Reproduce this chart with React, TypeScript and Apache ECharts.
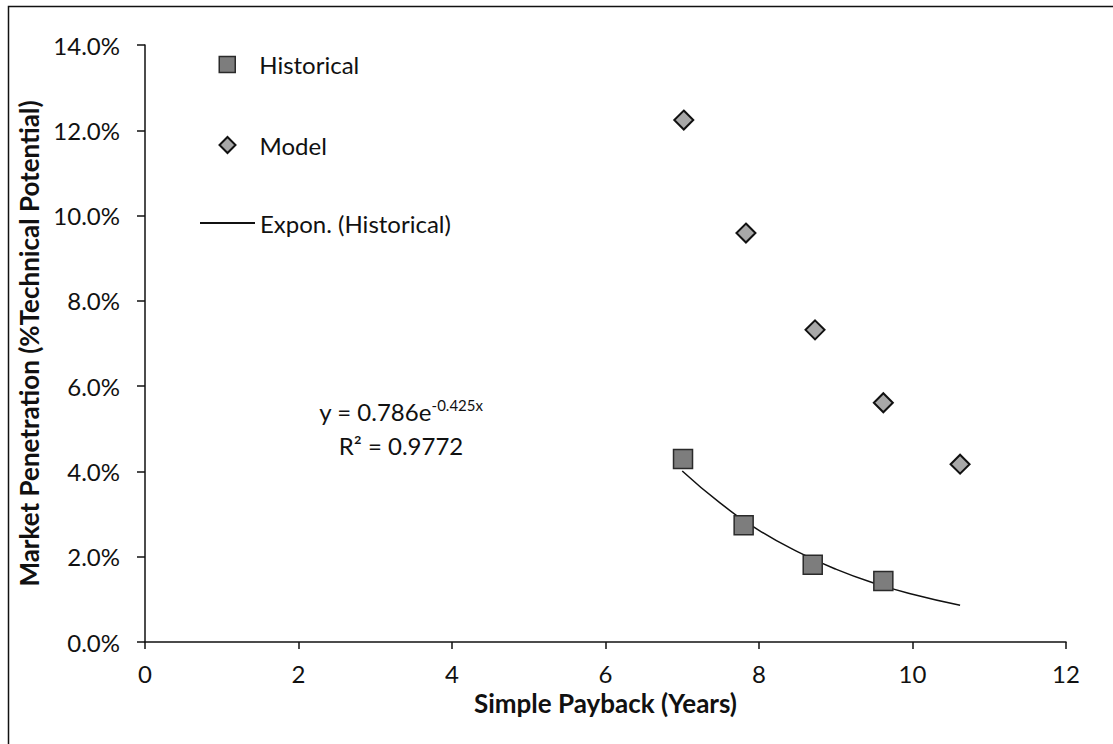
import React, { useEffect, useRef } from "react";
import * as echarts from "echarts";

// Data
const historicalX = [7.01, 7.8, 8.7, 9.62];
const historicalY = [0.0429, 0.0274, 0.0181, 0.0143];

const modelX = [7.02, 7.83, 8.73, 9.62, 10.62];
const modelY = [0.1224, 0.0959, 0.0732, 0.0561, 0.0417];

// Points read along the drawn trendline
const trendX = [7.0, 7.5, 8.0, 8.5, 9.0, 9.5, 10.0, 10.62];
const trendY = [0.0401, 0.0325, 0.0262, 0.0212, 0.0171, 0.0138, 0.0112, 0.0086];

const xTicks = { min: 0, max: 12, interval: 2 };
const yTicks = { min: 0, max: 0.14, interval: 0.02 };

const FONT = "Lato";

export default function App() {
  const ref = useRef<HTMLDivElement>(null);
  useEffect(() => {
    if (!ref.current) return;
    const chart = echarts.init(ref.current, null, { renderer: "svg" });
    const zip = (xs: number[], ys: number[]) => xs.map((x, i) => [x, ys[i]]);
    const legendText = { fontFamily: FONT, fontSize: 24, color: "#111", lineHeight: 26 };
    chart.setOption({
      animation: false,
      backgroundColor: "#ffffff",
      textStyle: { fontFamily: FONT, color: "#111" },
      grid: { left: 145, right: 47, top: 45, bottom: 102, containLabel: false },
      xAxis: {
        type: "value",
        min: xTicks.min,
        max: xTicks.max,
        interval: xTicks.interval,
        name: "Simple Payback (Years)",
        nameLocation: "middle",
        nameGap: 45,
        nameTextStyle: { fontFamily: FONT, fontWeight: "bold", fontSize: 26, color: "#111" },
        axisLine: { show: true, lineStyle: { color: "#111", width: 1.5 } },
        axisTick: { show: true, inside: false, length: 7, lineStyle: { color: "#111", width: 1.5 } },
        axisLabel: { margin: 19, fontSize: 24, fontFamily: FONT, color: "#111" },
        splitLine: { show: false },
      },
      yAxis: {
        type: "value",
        min: yTicks.min,
        max: yTicks.max,
        interval: yTicks.interval,
        name: "Market Penetration (%Technical Potential)",
        nameLocation: "middle",
        nameGap: 100,
        nameTextStyle: { fontFamily: FONT, fontWeight: "bold", fontSize: 26, color: "#111" },
        axisLine: { show: true, lineStyle: { color: "#111", width: 1.5 } },
        axisTick: { show: true, inside: false, length: 8, lineStyle: { color: "#111", width: 1.5 } },
        axisLabel: {
          margin: 25,
          fontSize: 24,
          fontFamily: FONT,
          color: "#111",
          formatter: (v: number) => (v * 100).toFixed(1) + "%",
        },
        splitLine: { show: false },
      },
      legend: [
        {
          data: [
            {
              name: "Historical",
              icon: "rect",
              itemStyle: { color: "#7d7d7d", borderColor: "#2a2a2a", borderWidth: 1.5 },
            },
          ],
          left: 218.5,
          top: 51.5,
          padding: 0,
          itemWidth: 16,
          itemHeight: 16,
          textStyle: { ...legendText, padding: [0, 0, 0, 19] },
        },
        {
          data: [
            {
              name: "Model",
              icon: "diamond",
              itemStyle: { color: "#a8a8a8", borderColor: "#111", borderWidth: 2 },
            },
          ],
          left: 218.5,
          top: 132,
          padding: 0,
          itemWidth: 16,
          itemHeight: 16,
          textStyle: { ...legendText, padding: [0, 0, 0, 19] },
        },
        {
          data: [
            {
              name: "Expon. (Historical)",
              itemStyle: { color: "transparent", borderColor: "transparent", borderWidth: 0 },
            },
          ],
          left: 199,
          top: 210,
          padding: 0,
          itemWidth: 55,
          itemHeight: 14,
          textStyle: { ...legendText },
        },
      ],
      series: [
        {
          name: "Expon. (Historical)",
          type: "line",
          data: zip(trendX, trendY),
          smooth: true,
          symbol: "none",
          lineStyle: { color: "#111", width: 1.5 },
          itemStyle: { color: "#111" },
          z: 1,
        },
        {
          name: "Historical",
          type: "scatter",
          data: zip(historicalX, historicalY),
          symbol: "rect",
          symbolSize: 19,
          itemStyle: { color: "#7d7d7d", borderColor: "#2a2a2a", borderWidth: 1.5, opacity: 1 },
          z: 3,
        },
        {
          name: "Model",
          type: "scatter",
          data: zip(modelX, modelY),
          symbol: "diamond",
          symbolSize: 19,
          itemStyle: { color: "#a8a8a8", borderColor: "#111", borderWidth: 2, opacity: 1 },
          z: 3,
        },
      ],
      graphic: [
        {
          type: "rect",
          shape: { x: 8.5, y: 6.5, width: 1200, height: 800 },
          style: { fill: "none", stroke: "#111", lineWidth: 1.5 },
          silent: true,
        },
        {
          type: "text",
          x: 401,
          y: 411,
          style: {
            text: "y = 0.786e{sup|-0.425x}",
            fontFamily: FONT,
            fontSize: 24,
            fill: "#111",
            align: "center",
            verticalAlign: "middle",
            rich: {
              sup: { fontFamily: FONT, fontSize: 15, fill: "#111", padding: [0, 0, 13, 0] },
            },
          },
        },
        {
          type: "text",
          x: 401,
          y: 445,
          style: {
            text: "R² = 0.9772",
            fontFamily: FONT,
            fontSize: 24,
            fill: "#111",
            align: "center",
            verticalAlign: "middle",
          },
        },
      ],
    });
    return () => chart.dispose();
  }, []);
  return (
    <div
      ref={ref}
      style={{ position: "fixed", left: 0, top: 0, width: 1113, height: 744, background: "#fff" }}
    />
  );
}
